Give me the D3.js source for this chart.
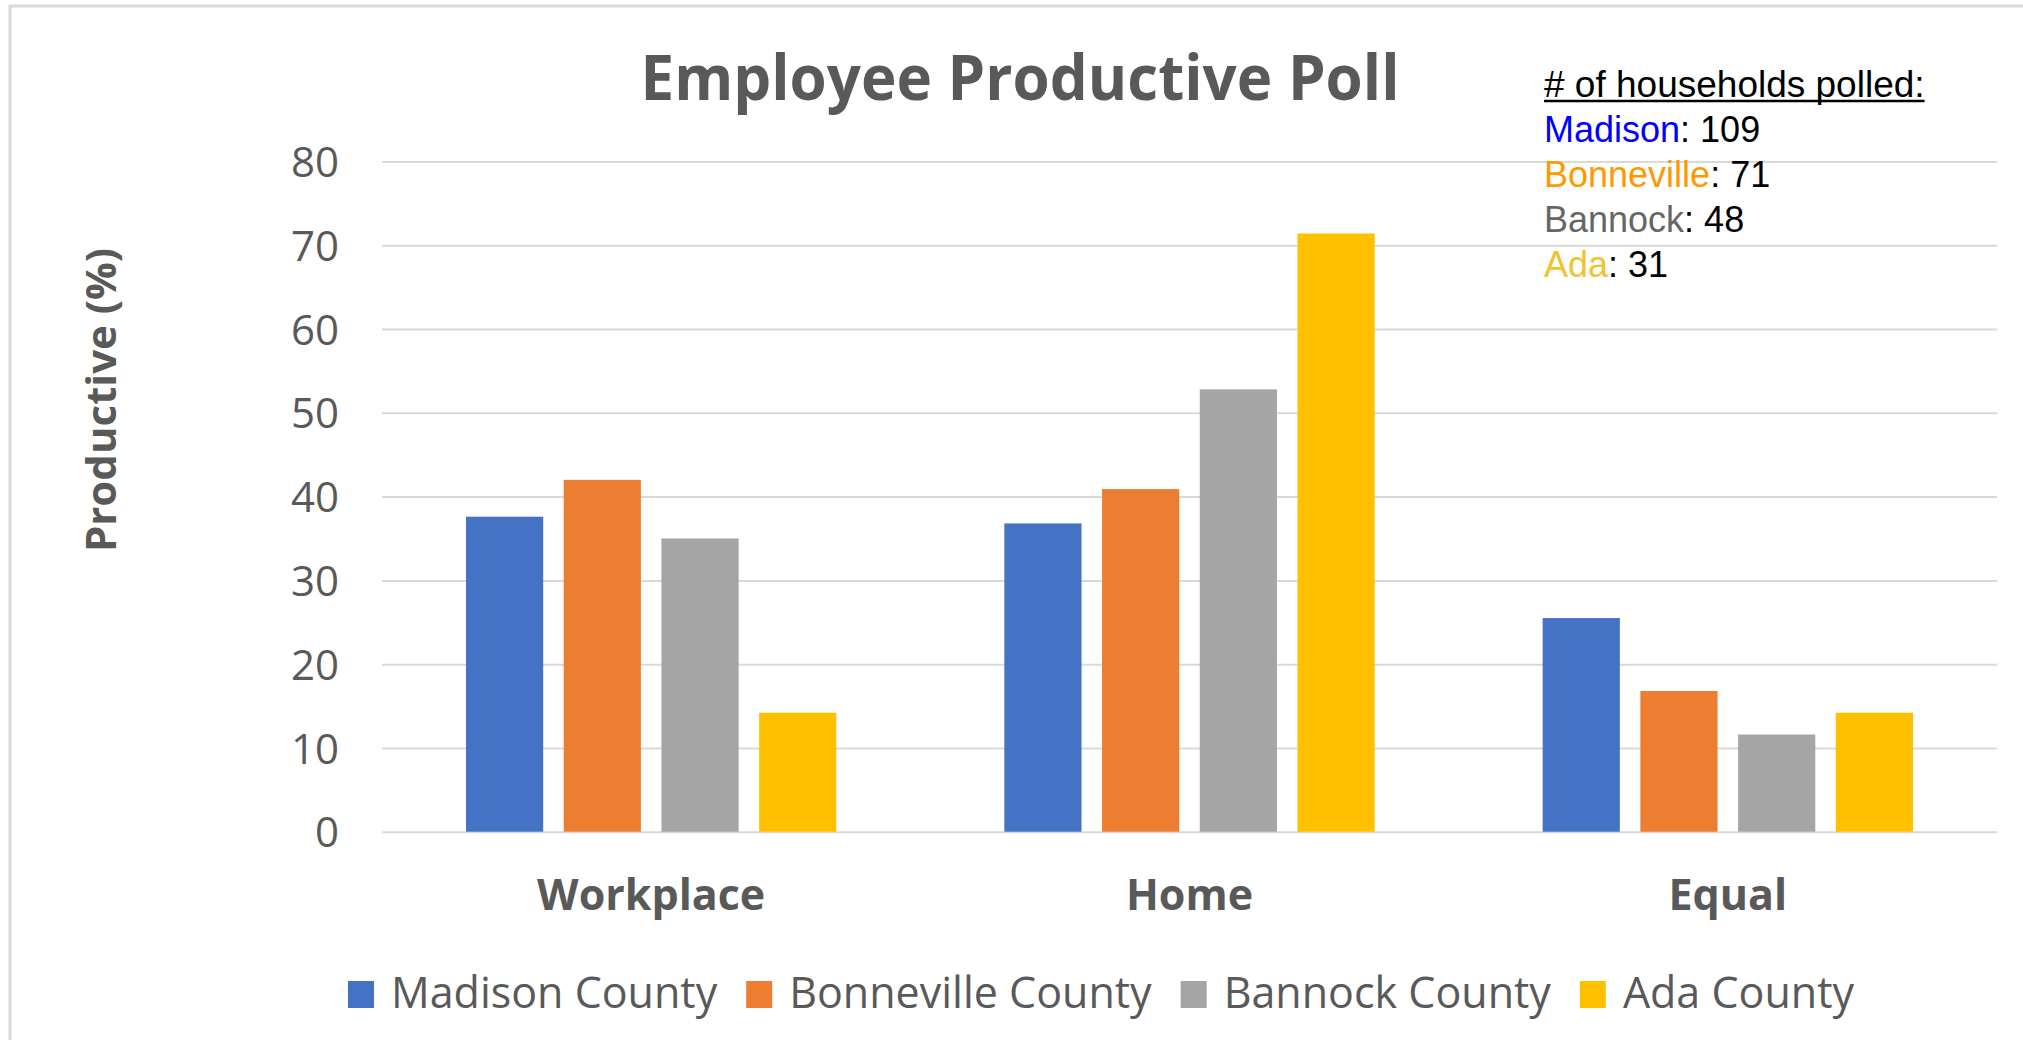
<!DOCTYPE html>
<html>
<head>
<meta charset="utf-8">
<script src="https://cdn.jsdelivr.net/npm/d3@7"></script>
<style>
  html, body { margin: 0; padding: 0; background: #ffffff; }
  svg { display: block; }
</style>
</head>
<body>
<script>
// ---- data ----
const categories = ["Workplace", "Home", "Equal"];
const seriesNames = ["Madison County", "Bonneville County", "Bannock County", "Ada County"];
const madison = [37.6, 36.8, 25.5];
const bonneville = [42.0, 40.9, 16.8];
const bannock = [35.0, 52.8, 11.6];
const ada = [14.2, 71.4, 14.2];
const yTicks = [0, 10, 20, 30, 40, 50, 60, 70, 80];
const pollNames = ["Madison", "Bonneville", "Bannock", "Ada"];
const pollCounts = [109, 71, 48, 31];
const titleText = "Employee Productive Poll";
const yTitle = "Productive (%)";
const pollHeading = "# of households polled:";

const seriesValues = [madison, bonneville, bannock, ada];
const barColors = ["#4472C4", "#ED7D31", "#A5A5A5", "#FFC000"];
const pollColors = ["#0000FF", "#FF9900", "#666666", "#F1C232"];

const W = 2023, H = 1040;
const svg = d3.select("body").append("svg").attr("width", W).attr("height", H);

// frame (top and left borders)
svg.append("line").attr("x1", 10).attr("x2", W).attr("y1", 6).attr("y2", 6)
  .attr("stroke", "#d9d9d9").attr("stroke-width", 3);
svg.append("line").attr("x1", 10).attr("x2", 10).attr("y1", 5).attr("y2", H)
  .attr("stroke", "#d9d9d9").attr("stroke-width", 3);

const plotLeft = 382, plotRight = 1997, plotTop = 161.5, plotBottom = 831.7;

const y = d3.scaleLinear().domain([0, 80]).range([plotBottom, plotTop]);
const x0 = d3.scaleBand().domain(categories).range([plotLeft, plotRight]).padding(0);
const outer = 84;
const x1 = d3.scaleBand().domain(d3.range(seriesNames.length))
  .range([outer, x0.bandwidth() - outer]).paddingInner(0.21).paddingOuter(0);

// gridlines via axis
const yAxis = d3.axisLeft(y).tickValues(yTicks).tickSize(-(plotRight - plotLeft)).tickFormat(d3.format("d"));
const gAxis = svg.append("g").attr("transform", `translate(${plotLeft},0)`).call(yAxis);
gAxis.select(".domain").remove();
gAxis.selectAll(".tick line").attr("stroke", "#d9d9d9").attr("stroke-width", 2);
gAxis.selectAll(".tick text")
  .attr("x", -43).attr("dy", "0.36em")
  .attr("fill", "#595959")
  .style("font-family", "'Open Sans', sans-serif")
  .style("font-size", "42px");

// bars
const rows = categories.map((c, i) => ({ cat: c, vals: seriesValues.map(s => s[i]) }));
const groups = svg.append("g").selectAll("g").data(rows).join("g")
  .attr("transform", d => `translate(${x0(d.cat)},0)`);
groups.selectAll("rect").data(d => d.vals.map((v, k) => ({ v, k }))).join("rect")
  .attr("x", d => x1(d.k))
  .attr("width", x1.bandwidth())
  .attr("y", d => y(d.v))
  .attr("height", d => y(0) - y(d.v))
  .attr("fill", d => barColors[d.k]);

// category labels
const xAxis = d3.axisBottom(x0).tickSize(0).tickPadding(0);
const gx = svg.append("g").attr("transform", `translate(0,${plotBottom})`).call(xAxis);
gx.select(".domain").remove();
gx.selectAll(".tick text")
  .attr("y", 78).attr("dy", 0)
  .attr("fill", "#595959")
  .style("font-family", "'Open Sans', sans-serif")
  .style("font-weight", "700")
  .style("font-size", "43px");

// title
svg.append("text")
  .attr("x", 1020).attr("y", 100)
  .attr("text-anchor", "middle")
  .attr("fill", "#595959")
  .attr("textLength", 759).attr("lengthAdjust", "spacingAndGlyphs")
  .style("font-family", "'Open Sans', sans-serif")
  .style("font-weight", "700")
  .style("font-size", "62px")
  .text(titleText);

// y axis title
svg.append("text")
  .attr("transform", `translate(116,400) rotate(-90)`)
  .attr("text-anchor", "middle")
  .attr("fill", "#595959")
  .style("font-family", "'Open Sans', sans-serif")
  .style("font-weight", "700")
  .style("font-size", "42px")
  .text(yTitle);

// poll annotation
const annX = 1544;
const head = svg.append("text")
  .attr("x", annX).attr("y", 97)
  .attr("fill", "#000000")
  .style("font-family", "'Liberation Sans', Arial, sans-serif")
  .style("font-size", "37px")
  .text(pollHeading);
const headLen = head.node().getComputedTextLength();
svg.append("line").attr("x1", annX).attr("x2", annX + headLen)
  .attr("y1", 101).attr("y2", 101).attr("stroke", "#000").attr("stroke-width", 2.5);

pollNames.forEach((n, i) => {
  const t = svg.append("text")
    .attr("x", annX).attr("y", 142 + i * 45)
    .style("font-family", "'Liberation Sans', Arial, sans-serif")
    .style("font-size", "36px");
  t.append("tspan").attr("fill", pollColors[i]).text(n);
  t.append("tspan").attr("fill", "#000000").text(": " + pollCounts[i]);
});

// legend
let lx = 348;
const legY = 1008;
seriesNames.forEach((n, i) => {
  svg.append("rect").attr("x", lx).attr("y", legY - 27).attr("width", 26).attr("height", 27)
    .attr("fill", barColors[i]);
  const t = svg.append("text")
    .attr("x", lx + 43).attr("y", legY)
    .attr("fill", "#595959")
    .style("font-family", "'Open Sans', sans-serif")
    .style("font-size", "43px")
    .text(n);
  lx = lx + 43 + t.node().getComputedTextLength() + 29;
});
</script>
</body>
</html>
